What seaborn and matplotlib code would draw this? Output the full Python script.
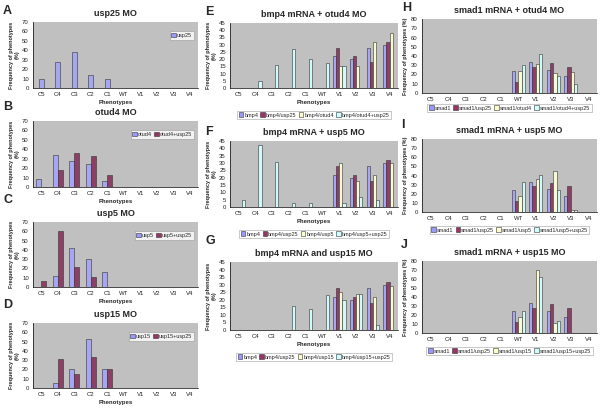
import numpy as np
import pandas as pd
import seaborn as sns
import matplotlib.pyplot as plt

sns.set_style('white')
plt.rcParams['font.family'] = ['Liberation Sans', 'DejaVu Sans']

phenotypes = ['C5', 'C4', 'C3', 'C2', 'C1', 'WT', 'V1', 'V2', 'V3', 'V4']

# left column (morphants alone)
usp25 = [10, 28, 38, 14, 10, 0, 0, 0, 0, 0]
otud4 = [8, 34, 28, 24, 6, 0, 0, 0, 0, 0]
otud4_usp25 = [0, 18, 36, 33, 13, 0, 0, 0, 0, 0]
usp5 = [0, 12, 42, 30, 16, 0, 0, 0, 0, 0]
usp5_usp25 = [7, 60, 22, 11, 0, 0, 0, 0, 0, 0]
usp15 = [0, 5, 21, 53, 21, 0, 0, 0, 0, 0]
usp15_usp25 = [0, 31, 15, 33, 21, 0, 0, 0, 0, 0]

# middle column (bmp4 mRNA)
bmp4 = [0, 0, 0, 0, 0, 0, 22, 20, 28, 30]
bmp4_usp25 = [0, 0, 0, 0, 0, 0, 28, 22, 18, 32]
bmp4_otud4 = [0, 0, 0, 0, 0, 0, 15, 15, 32, 38]
bmp4_otud4_usp25 = [0, 5, 16, 27, 20, 17, 15, 0, 0, 0]
bmp4_usp5 = [0, 0, 0, 0, 0, 0, 30, 18, 22, 30]
bmp4_usp5_usp25 = [5, 42, 31, 3, 3, 0, 3, 7, 5, 0]
bmp4_usp15 = [0, 0, 0, 0, 0, 0, 25, 24, 22, 29]
bmp4_usp15_usp25 = [0, 0, 0, 16, 14, 23, 20, 24, 3, 0]

# right column (smad1 mRNA)
smad1 = [0, 0, 0, 0, 0, 24, 33, 25, 18, 0]
smad1_usp25 = [0, 0, 0, 0, 0, 12, 28, 32, 28, 0]
smad1_otud4 = [0, 0, 0, 0, 0, 24, 31, 22, 23, 0]
smad1_otud4_usp25 = [0, 0, 0, 0, 0, 30, 42, 18, 10, 0]
smad1_usp5 = [0, 0, 0, 0, 0, 17, 36, 45, 2, 0]
smad1_usp5_usp25 = [0, 0, 0, 0, 0, 33, 41, 24, 2, 0]
smad1_usp15 = [0, 0, 0, 0, 0, 18, 70, 11, 0, 0]
smad1_usp15_usp25 = [0, 0, 0, 0, 0, 25, 62, 13, 0, 0]

colors = ['#9999ff', '#993366', '#ffffcc', '#ccffff']
W, H = 600, 413


def box(l, r, t, b):
    return [l / W, 1 - b / H, (r - l) / W, (b - t) / H]


def panel(fig, px, title, series, names, ymax, ystep, ylabel,
          width, legend_y, xlabel=True):
    l, r, t, b = px
    ax = fig.add_axes(box(l, r, t, b))
    df = pd.concat([pd.DataFrame({'phenotype': phenotypes, 'value': vals, 'group': nm})
                    for vals, nm in zip(series, names)])
    sns.barplot(data=df, x='phenotype', y='value', hue='group', ax=ax,
                palette=colors[:len(names)], width=width, edgecolor='#333333',
                linewidth=0.4, legend=False)
    ax.set_facecolor('#c0c0c0')
    ax.set_xlim(-0.5, 9.5)
    ax.set_ylim(0, ymax)
    ax.set_yticks(np.arange(0, ymax + 1, ystep))
    ax.tick_params(labelsize=4.3, length=1.5, width=0.4, pad=1.5, colors='#222222')
    ax.set_xticks(np.arange(-0.5, 10, 1), minor=True)
    ax.tick_params(axis='x', which='major', length=0, pad=3)
    ax.tick_params(axis='x', which='minor', length=1.5, width=0.4)
    for s in ['top', 'right']:
        ax.spines[s].set_visible(False)
    for s in ['left', 'bottom']:
        ax.spines[s].set_linewidth(0.5)
        ax.spines[s].set_color('black')
    ax.set_xlabel('Phenotypes' if xlabel else '', fontsize=4.3, fontweight='bold', labelpad=2)
    ax.set_ylabel(ylabel, fontsize=4.0, fontweight='bold', labelpad=2, linespacing=1.0)
    ax.set_title(title, fontsize=6.5, fontweight='bold', pad=4)
    handles = [plt.Rectangle((0, 0), 1, 1, fc=c, ec='#333333', lw=0.4)
               for c in colors[:len(names)]]
    if legend_y is None:
        leg = ax.legend(handles, names, loc='upper right', fontsize=4, ncol=len(names),
                        handlelength=0.8, handleheight=0.8, handletextpad=0.2,
                        columnspacing=0.4, borderpad=0.3, fancybox=False,
                        bbox_to_anchor=(0.99, 0.9))
    else:
        leg = ax.legend(handles, names, loc='center', fontsize=4, ncol=len(names),
                        handlelength=0.8, handleheight=0.8, handletextpad=0.2,
                        columnspacing=0.4, borderpad=0.3, fancybox=False,
                        bbox_to_anchor=(0.5, 1 - (legend_y - t) / (b - t)))
    leg.get_frame().set_edgecolor('#888888')
    leg.get_frame().set_linewidth(0.4)
    return ax


fig = plt.figure(figsize=(6, 4.13), dpi=100)
yl2 = 'Frequency of phenotypes\n(%)'

panel(fig, (33, 198, 22, 88), 'usp25 MO', [usp25], ['usp25'],
      70, 10, yl2, 0.3, None)
panel(fig, (33, 198, 121, 187), 'otud4 MO', [otud4, otud4_usp25],
      ['otud4', 'otud4+usp25'], 70, 10, yl2, 0.6, None)
panel(fig, (33, 198, 222, 287), 'usp5 MO', [usp5, usp5_usp25],
      ['usp5', 'usp5+usp25'], 70, 10, yl2, 0.6, None)
panel(fig, (33, 198, 323, 388), 'usp15 MO', [usp15, usp15_usp25],
      ['usp15', 'usp15+usp25'], 70, 10, yl2, 0.6, None)

panel(fig, (230, 398, 23, 88), 'bmp4 mRNA + otud4 MO',
      [bmp4, bmp4_usp25, bmp4_otud4, bmp4_otud4_usp25],
      ['bmp4', 'bmp4/usp25', 'bmp4/otud4', 'bmp4/otud4+usp25'],
      45, 5, yl2, 0.75, 115)
panel(fig, (230, 398, 141, 207), 'bmp4 mRNA + usp5 MO',
      [bmp4, bmp4_usp25, bmp4_usp5, bmp4_usp5_usp25],
      ['bmp4', 'bmp4/usp25', 'bmp4/usp5', 'bmp4/usp5+usp25'],
      45, 5, yl2, 0.75, 234)
panel(fig, (230, 398, 262, 330), 'bmp4 mRNA and usp15 MO',
      [bmp4, bmp4_usp25, bmp4_usp15, bmp4_usp15_usp25],
      ['bmp4', 'bmp4/usp25', 'bmp4/usp15', 'bmp4/usp15+usp25'],
      45, 5, yl2, 0.75, 357)

yl1 = 'Frequency of phenotypes (%)'
panel(fig, (422, 597, 19, 93), 'smad1 mRNA + otud4 MO',
      [smad1, smad1_usp25, smad1_otud4, smad1_otud4_usp25],
      ['smad1', 'smad1/usp25', 'smad1/otud4', 'smad1/otud4+usp25'],
      80, 10, yl1, 0.75, 108, xlabel=False)
panel(fig, (422, 597, 139, 212), 'smad1 mRNA + usp5 MO',
      [smad1, smad1_usp25, smad1_usp5, smad1_usp5_usp25],
      ['smad1', 'smad1/usp25', 'smad1/usp5', 'smad1/usp5+usp25'],
      80, 10, yl1, 0.75, 230, xlabel=False)
panel(fig, (422, 597, 261, 333), 'smad1 mRNA + usp15 MO',
      [smad1, smad1_usp25, smad1_usp15, smad1_usp15_usp25],
      ['smad1', 'smad1/usp25', 'smad1/usp15', 'smad1/usp15+usp25'],
      80, 10, yl1, 0.75, 351, xlabel=False)

# panel letters
letters = ['A', 'B', 'C', 'D', 'E', 'F', 'G', 'H', 'I', 'J']
letter_px = [(3, 11), (3, 107), (3, 200), (3, 305), (205, 12), (205, 132),
             (205, 241), (402, 8), (401, 125), (401, 245)]
for let, (x, y) in zip(letters, letter_px):
    fig.text(x / W, 1 - y / H, let, fontsize=9, fontweight='bold', ha='left', va='center')

fig.savefig('out.png', dpi=100)
